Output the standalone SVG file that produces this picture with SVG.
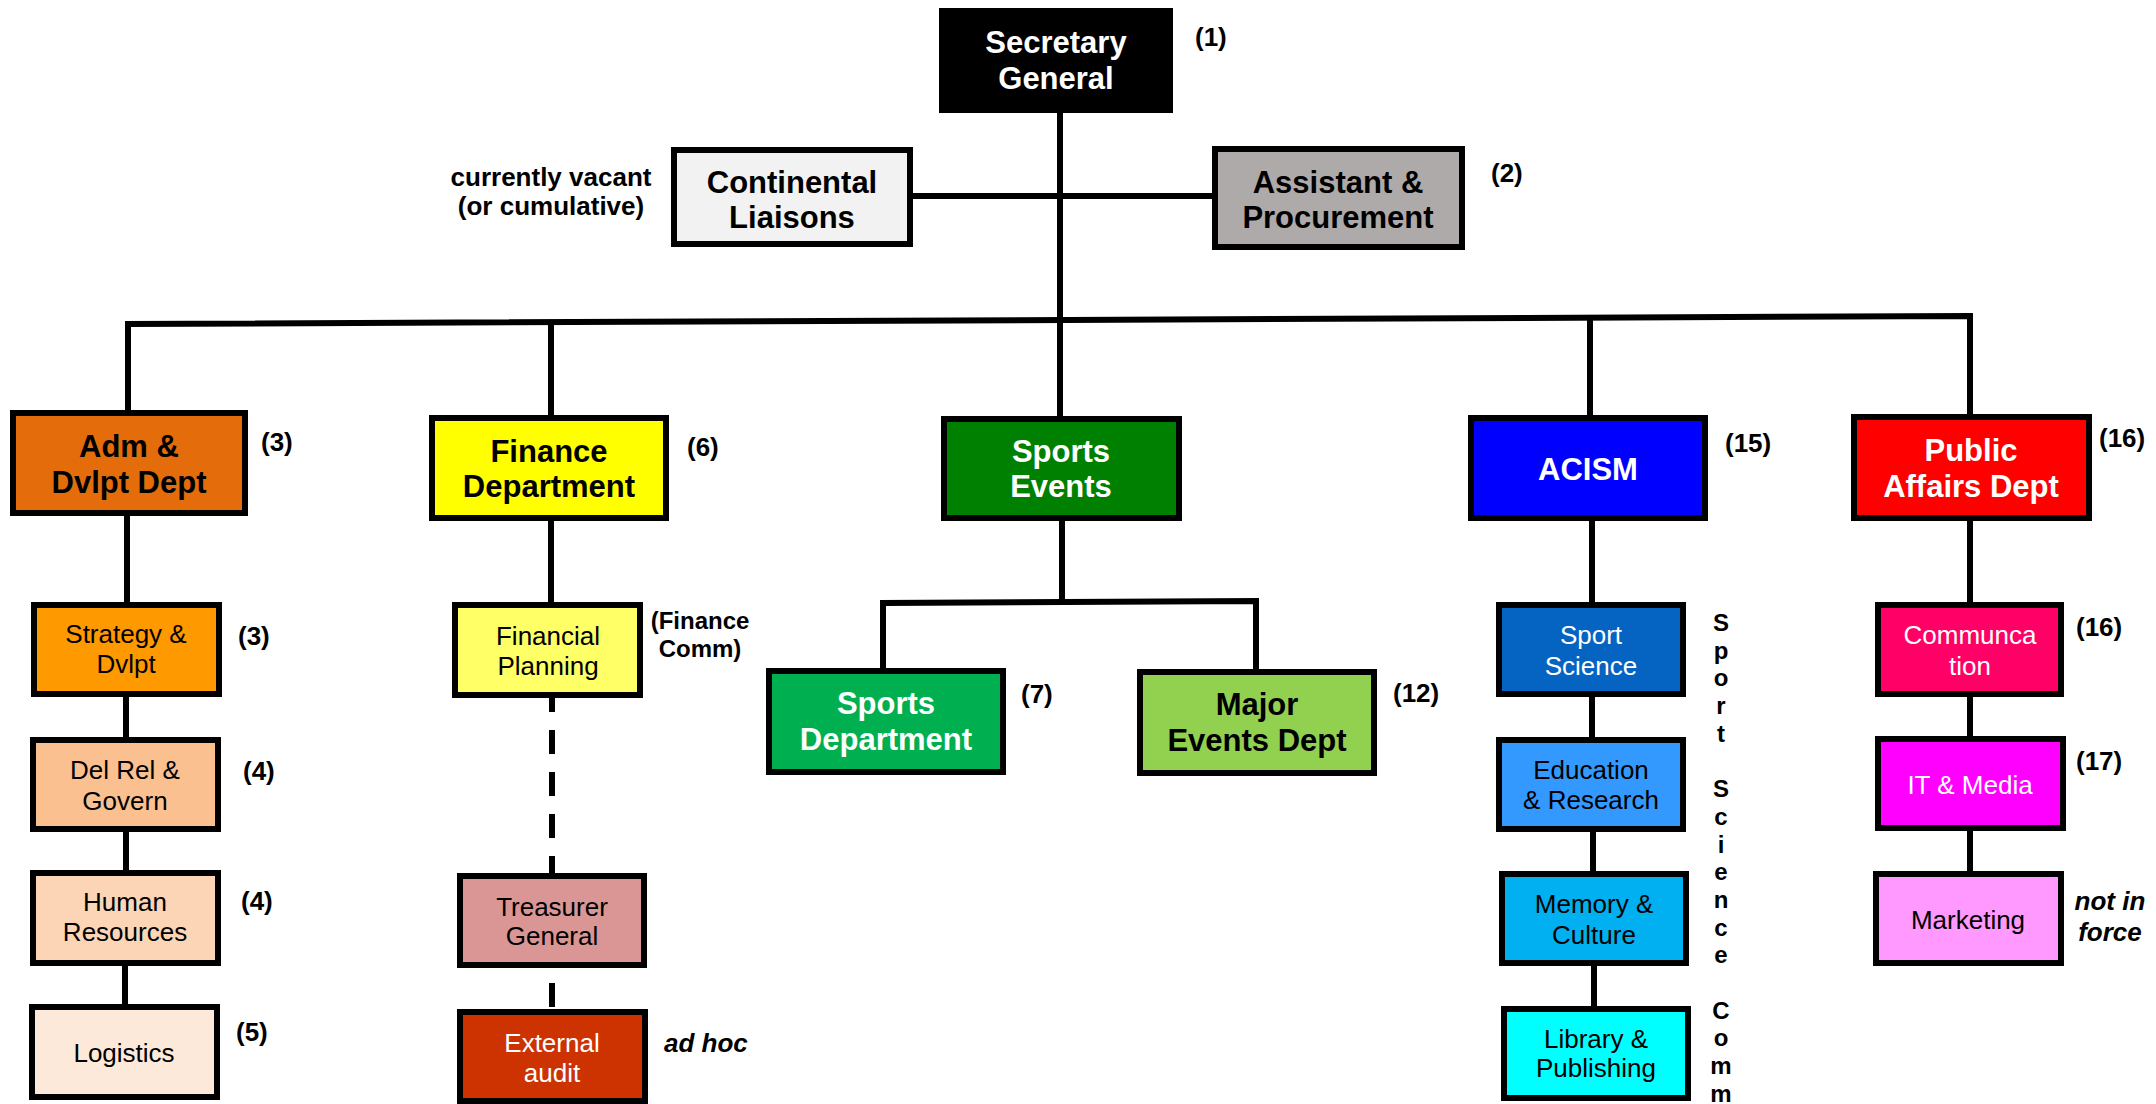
<svg xmlns="http://www.w3.org/2000/svg" width="2156" height="1104" viewBox="0 0 2156 1104">
<style>
text{font-family:"Liberation Sans",Arial,sans-serif}
.box{stroke:#000;stroke-width:6}
.t1{font-size:31px;font-weight:bold;text-anchor:middle}
.t2{font-size:26px;text-anchor:middle}
.num{font-size:26px;font-weight:bold}
.note{font-size:26px;font-weight:bold}
.it{font-size:26px;font-weight:bold;font-style:italic}
.w{fill:#fff}
.k{fill:#000}
.ln{stroke:#000;stroke-width:6;fill:none}
.dash{stroke:#000;stroke-width:6;fill:none;stroke-dasharray:24 18}
.vt{font-size:24px;font-weight:bold;text-anchor:middle}
</style>
<rect width="2156" height="1104" fill="#fff"/>
<g id="connectors">
<line class="ln" x1="1060" y1="113" x2="1060" y2="419"/>
<line class="ln" x1="913" y1="196" x2="1212" y2="196"/>
<path class="ln" d="M128 410 L128 324 L1970 316 L1970 414"/>
<line class="ln" x1="551" y1="322" x2="551" y2="415"/>
<line class="ln" x1="1590" y1="318" x2="1590" y2="415"/>
<line class="ln" x1="127" y1="516" x2="127" y2="602"/>
<line class="ln" x1="126" y1="697" x2="126" y2="737"/>
<line class="ln" x1="126" y1="832" x2="126" y2="870"/>
<line class="ln" x1="125" y1="966" x2="125" y2="1004"/>
<line class="ln" x1="551" y1="521" x2="551" y2="602"/>
<line class="dash" x1="552" y1="698" x2="552" y2="873" stroke-dashoffset="10"/>
<line class="dash" x1="552" y1="968" x2="552" y2="1009" stroke-dashoffset="27"/>
<line class="ln" x1="1062" y1="521" x2="1062" y2="602"/>
<path class="ln" d="M883 668 L883 603 L1256 601 L1256 669"/>
<line class="ln" x1="1592" y1="521" x2="1592" y2="602"/>
<line class="ln" x1="1592" y1="697" x2="1592" y2="737"/>
<line class="ln" x1="1593" y1="832" x2="1593" y2="871"/>
<line class="ln" x1="1594" y1="966" x2="1594" y2="1006"/>
<line class="ln" x1="1970" y1="521" x2="1970" y2="602"/>
<line class="ln" x1="1970" y1="697" x2="1970" y2="736"/>
<line class="ln" x1="1970" y1="831" x2="1970" y2="871"/>
</g>
<g id="secretary-general">
<rect class="box" x="942" y="11" width="228" height="99" fill="#000"/>
<text class="t1 w" x="1056" y="53">Secretary</text>
<text class="t1 w" x="1056" y="89">General</text>
<text class="num" x="1195" y="46">(1)</text>
</g>
<g id="continental-liaisons">
<rect class="box" x="674" y="150" width="236" height="94" fill="#f2f2f2"/>
<text class="t1" x="792" y="193">Continental</text>
<text class="t1" x="792" y="228">Liaisons</text>
<text class="note" x="551" y="186" text-anchor="middle">currently vacant</text>
<text class="note" x="551" y="215" text-anchor="middle">(or cumulative)</text>
</g>
<g id="assistant-procurement">
<rect class="box" x="1215" y="149" width="247" height="98" fill="#aeaaaa"/>
<text class="t1" x="1338" y="193">Assistant &amp;</text>
<text class="t1" x="1338" y="228">Procurement</text>
<text class="num" x="1491" y="182">(2)</text>
</g>
<g id="adm-dvlpt">
<rect class="box" x="13" y="413" width="232" height="100" fill="#e46c0a"/>
<text class="t1" x="129" y="457">Adm &amp;</text>
<text class="t1" x="129" y="493">Dvlpt Dept</text>
<text class="num" x="261" y="451">(3)</text>
</g>
<g id="finance">
<rect class="box" x="432" y="418" width="234" height="100" fill="#ffff00"/>
<text class="t1" x="549" y="462">Finance</text>
<text class="t1" x="549" y="497">Department</text>
<text class="num" x="687" y="456">(6)</text>
</g>
<g id="sports-events">
<rect class="box" x="944" y="419" width="235" height="99" fill="#008000"/>
<text class="t1 w" x="1061" y="462">Sports</text>
<text class="t1 w" x="1061" y="497">Events</text>
</g>
<g id="acism">
<rect class="box" x="1471" y="418" width="234" height="100" fill="#0000ff"/>
<text class="t1 w" x="1588" y="480">ACISM</text>
<text class="num" x="1725" y="452">(15)</text>
</g>
<g id="public-affairs">
<rect class="box" x="1854" y="417" width="235" height="101" fill="#ff0000"/>
<text class="t1 w" x="1971" y="461">Public</text>
<text class="t1 w" x="1971" y="497">Affairs Dept</text>
<text class="num" x="2099" y="447">(16)</text>
</g>
<g id="strategy">
<rect class="box" x="34" y="605" width="185" height="89" fill="#ff9900"/>
<text class="t2" x="126" y="643">Strategy &amp;</text>
<text class="t2" x="126" y="673">Dvlpt</text>
<text class="num" x="238" y="645">(3)</text>
</g>
<g id="del-rel">
<rect class="box" x="33" y="740" width="185" height="89" fill="#fac090"/>
<text class="t2" x="125" y="779">Del Rel &amp;</text>
<text class="t2" x="125" y="810">Govern</text>
<text class="num" x="243" y="780">(4)</text>
</g>
<g id="human-resources">
<rect class="box" x="33" y="873" width="185" height="90" fill="#fbd5b5"/>
<text class="t2" x="125" y="911">Human</text>
<text class="t2" x="125" y="941">Resources</text>
<text class="num" x="241" y="910">(4)</text>
</g>
<g id="logistics">
<rect class="box" x="32" y="1007" width="185" height="90" fill="#fde9d9"/>
<text class="t2" x="124" y="1062">Logistics</text>
<text class="num" x="236" y="1041">(5)</text>
</g>
<g id="financial-planning">
<rect class="box" x="455" y="605" width="185" height="90" fill="#ffff66"/>
<text class="t2" x="548" y="645">Financial</text>
<text class="t2" x="548" y="675">Planning</text>
<text x="700" y="629" text-anchor="middle" font-size="24" font-weight="bold">(Finance</text>
<text x="700" y="657" text-anchor="middle" font-size="24" font-weight="bold">Comm)</text>
</g>
<g id="treasurer-general">
<rect class="box" x="460" y="876" width="184" height="89" fill="#da9694"/>
<text class="t2" x="552" y="916">Treasurer</text>
<text class="t2" x="552" y="945">General</text>
</g>
<g id="external-audit">
<rect class="box" x="460" y="1012" width="185" height="89" fill="#cc3300"/>
<text class="t2 w" x="552" y="1052">External</text>
<text class="t2 w" x="552" y="1082">audit</text>
<text class="it" x="664" y="1052">ad hoc</text>
</g>
<g id="sports-department">
<rect class="box" x="769" y="671" width="234" height="101" fill="#00b050"/>
<text class="t1 w" x="886" y="714">Sports</text>
<text class="t1 w" x="886" y="750">Department</text>
<text class="num" x="1021" y="703">(7)</text>
</g>
<g id="major-events">
<rect class="box" x="1140" y="672" width="234" height="101" fill="#92d050"/>
<text class="t1" x="1257" y="715">Major</text>
<text class="t1" x="1257" y="751">Events Dept</text>
<text class="num" x="1393" y="702">(12)</text>
</g>
<g id="sport-science">
<rect class="box" x="1499" y="605" width="184" height="89" fill="#0563c1"/>
<text class="t2 w" x="1591" y="644">Sport</text>
<text class="t2 w" x="1591" y="675">Science</text>
</g>
<g id="education-research">
<rect class="box" x="1499" y="740" width="184" height="89" fill="#3399ff"/>
<text class="t2" x="1591" y="779">Education</text>
<text class="t2" x="1591" y="809">&amp; Research</text>
</g>
<g id="memory-culture">
<rect class="box" x="1502" y="874" width="184" height="89" fill="#00b0f0"/>
<text class="t2" x="1594" y="913">Memory &amp;</text>
<text class="t2" x="1594" y="944">Culture</text>
</g>
<g id="library-publishing">
<rect class="box" x="1504" y="1009" width="184" height="89" fill="#00ffff"/>
<text class="t2" x="1596" y="1048">Library &amp;</text>
<text class="t2" x="1596" y="1077">Publishing</text>
</g>
<g id="sport-science-comm-label">
<text class="vt" x="1721" y="631">S</text>
<text class="vt" x="1721" y="659">p</text>
<text class="vt" x="1721" y="686">o</text>
<text class="vt" x="1721" y="714">r</text>
<text class="vt" x="1721" y="742">t</text>
<text class="vt" x="1721" y="797">S</text>
<text class="vt" x="1721" y="825">c</text>
<text class="vt" x="1721" y="853">i</text>
<text class="vt" x="1721" y="880">e</text>
<text class="vt" x="1721" y="908">n</text>
<text class="vt" x="1721" y="936">c</text>
<text class="vt" x="1721" y="963">e</text>
<text class="vt" x="1721" y="1019">C</text>
<text class="vt" x="1721" y="1046">o</text>
<text class="vt" x="1721" y="1074">m</text>
<text class="vt" x="1721" y="1102">m</text>
</g>
<g id="communication">
<rect class="box" x="1878" y="605" width="183" height="89" fill="#ff0066"/>
<text class="t2 w" x="1970" y="644">Communca</text>
<text class="t2 w" x="1970" y="675">tion</text>
<text class="num" x="2076" y="636">(16)</text>
</g>
<g id="it-media">
<rect class="box" x="1878" y="739" width="185" height="89" fill="#ff00ff"/>
<text class="t2 w" x="1970" y="794">IT &amp; Media</text>
<text class="num" x="2076" y="770">(17)</text>
</g>
<g id="marketing">
<rect class="box" x="1876" y="874" width="185" height="89" fill="#ff99ff"/>
<text class="t2" x="1968" y="929">Marketing</text>
<text class="it" x="2110" y="910" text-anchor="middle">not in</text>
<text class="it" x="2110" y="941" text-anchor="middle">force</text>
</g>
</svg>
